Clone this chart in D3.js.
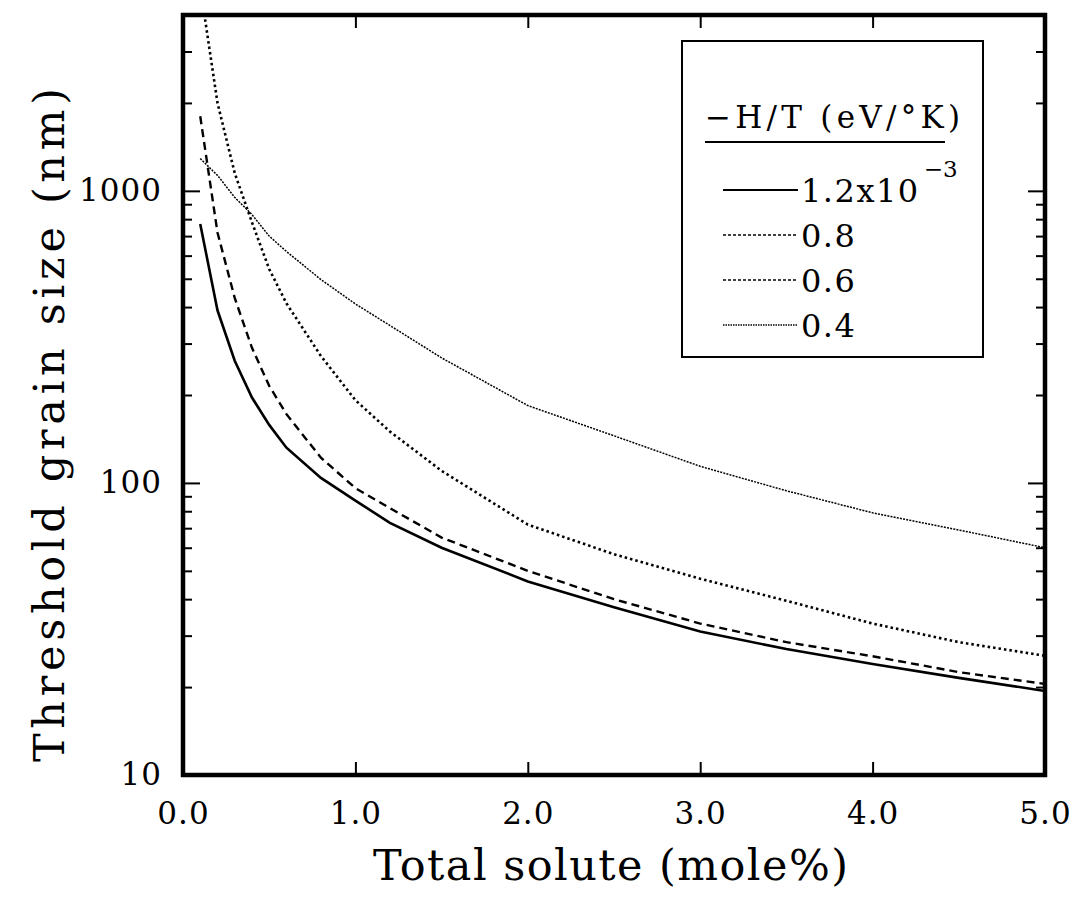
<!DOCTYPE html>
<html>
<head>
<meta charset="utf-8">
<script src="https://d3js.org/d3.v7.min.js"></script>
<style>
  body { margin: 0; background: #fff; }
  text { font-family: "DejaVu Serif", "Liberation Serif", serif; fill: #000; }
</style>
</head>
<body>
<div id="chart"></div>
<script>
// total solute (mole%) at which each curve was read
let solute = [0.1, 0.2, 0.3, 0.4, 0.5, 0.6, 0.8, 1.0, 1.2, 1.5, 2.0, 2.5, 3.0, 3.5, 4.0, 4.5, 5.0];
// threshold grain size (nm) for each -H/T
let size12 = [770, 390, 262, 196, 158, 132, 104, 87, 73, 60, 46, 37.5, 31, 27, 24, 21.5, 19.4];
let size08 = [1800, 720, 430, 290, 215, 172, 122, 96, 82, 65, 50, 40, 33, 28.5, 25.5, 22.5, 20.5];
let size06 = [5000, 2000, 1150, 780, 540, 412, 272, 192, 150, 110, 72, 57, 47, 39.5, 33, 28.5, 25.6];
let size04 = [1290, 1130, 950, 830, 700, 620, 497, 410, 346, 268, 184, 145, 114, 94, 79, 69, 60];

let seriesNames = ["1.2x10", "0.8", "0.6", "0.4"];
let xTicks = [0, 1, 2, 3, 4, 5];
let yMajor = [10, 100, 1000];
let yMinor = [20, 30, 40, 50, 60, 70, 80, 90, 200, 300, 400, 500, 600, 700, 800, 900, 2000, 3000];

let svgWidth = 1076, svgHeight = 907;
let margin = {top: 15, right: 31, bottom: 132, left: 183};
let width = svgWidth - margin.left - margin.right,
    height = svgHeight - margin.top - margin.bottom;

let x = d3.scaleLinear().domain([0, 5]).range([0, width]);
let y = d3.scaleLog().domain([10, 4000]).range([height, 0]);

let svg = d3.select("#chart").append("svg")
    .attr("width", svgWidth)
    .attr("height", svgHeight);

let g = svg.append("g")
    .attr("transform", "translate(" + margin.left + "," + margin.top + ")");

g.append("clipPath").attr("id", "plot")
  .append("rect").attr("width", width).attr("height", height);

// curves
let styles = [
  {width: 2.6, dash: null},
  {width: 2.4, dash: "8,5"},
  {width: 2.6, dash: "2.5,3"},
  {width: 1.5, dash: "2,1.2"}
];
let allSeries = [size12, size08, size06, size04];

let line = d3.line()
    .x(function(d) { return x(d[0]); })
    .y(function(d) { return y(d[1]); });

allSeries.forEach(function(vals, i) {
  g.append("path")
    .datum(solute.map(function(s, j) { return [s, vals[j]]; }))
    .attr("clip-path", "url(#plot)")
    .attr("fill", "none")
    .attr("stroke", "#000")
    .attr("stroke-width", styles[i].width)
    .attr("stroke-dasharray", styles[i].dash)
    .attr("d", line);
});

// axes, ticks pointing inward
function tidy(sel) {
  sel.select(".domain").remove();
  sel.selectAll("line").attr("stroke", "#000").attr("stroke-width", 2);
  sel.selectAll("text").attr("font-size", 31).attr("font-family", "DejaVu Serif")
     .attr("letter-spacing", 1);
}

g.append("g")
  .attr("transform", "translate(0," + height + ")")
  .call(d3.axisBottom(x).tickValues(xTicks).tickSize(-13).tickPadding(27)
        .tickFormat(d3.format(".1f")))
  .call(tidy);

g.append("g")
  .call(d3.axisTop(x).tickValues([1, 2, 3, 4]).tickSize(-13).tickFormat(""))
  .call(tidy);

g.append("g")
  .call(d3.axisLeft(y).tickValues(yMajor).tickSize(-17).tickPadding(21)
        .tickFormat(d3.format("d")))
  .call(tidy);

g.append("g")
  .call(d3.axisLeft(y).tickValues(yMinor).tickSize(-9).tickFormat(""))
  .call(tidy);

g.append("g")
  .attr("transform", "translate(" + width + ",0)")
  .call(d3.axisRight(y).tickValues(yMajor).tickSize(-17).tickFormat(""))
  .call(tidy);

g.append("g")
  .attr("transform", "translate(" + width + ",0)")
  .call(d3.axisRight(y).tickValues(yMinor).tickSize(-9).tickFormat(""))
  .call(tidy);

// frame
g.append("rect")
  .attr("width", width).attr("height", height)
  .attr("fill", "none").attr("stroke", "#000").attr("stroke-width", 4.5);

// axis titles
svg.append("text")
  .attr("x", 373)
  .attr("y", 880)
  .attr("font-size", 43)
  .attr("textLength", 475)
  .attr("lengthAdjust", "spacing")
  .text("Total solute (mole%)");

svg.append("text")
  .attr("transform", "translate(64,762) rotate(-90)")
  .attr("font-size", 43)
  .attr("textLength", 674)
  .attr("lengthAdjust", "spacing")
  .text("Threshold grain size (nm)");

// legend
let legend = svg.append("g").attr("transform", "translate(682,41)");
legend.append("rect")
  .attr("width", 301).attr("height", 316)
  .attr("fill", "#fff").attr("stroke", "#000").attr("stroke-width", 2);

legend.append("text")
  .attr("x", 23).attr("y", 87)
  .attr("font-size", 31)
  .attr("textLength", 255)
  .attr("lengthAdjust", "spacing")
  .text("\u2212H/T (eV/\u00B0K)");
legend.append("line")
  .attr("x1", 23).attr("x2", 263).attr("y1", 101).attr("y2", 101)
  .attr("stroke", "#000").attr("stroke-width", 2);

let legendDash = [null, "3,2", "3,2", "1.5,1"];
seriesNames.forEach(function(name, i) {
  let ly = 149 + i * 45;
  legend.append("line")
    .attr("x1", 41).attr("x2", 116).attr("y1", ly).attr("y2", ly)
    .attr("stroke", "#000").attr("stroke-width", i == 0 ? 2 : 1.5)
    .attr("stroke-dasharray", legendDash[i]);
  let t = legend.append("text")
    .attr("x", 119).attr("y", ly + 12)
    .attr("font-size", 32)
    .attr("letter-spacing", 1.5)
    .text(name);
  if (i == 0) {
    t.append("tspan").attr("dx", 4).attr("dy", -25).attr("font-size", 23)
      .attr("letter-spacing", 0).text("\u22123");
  }
});
</script>
</body>
</html>
